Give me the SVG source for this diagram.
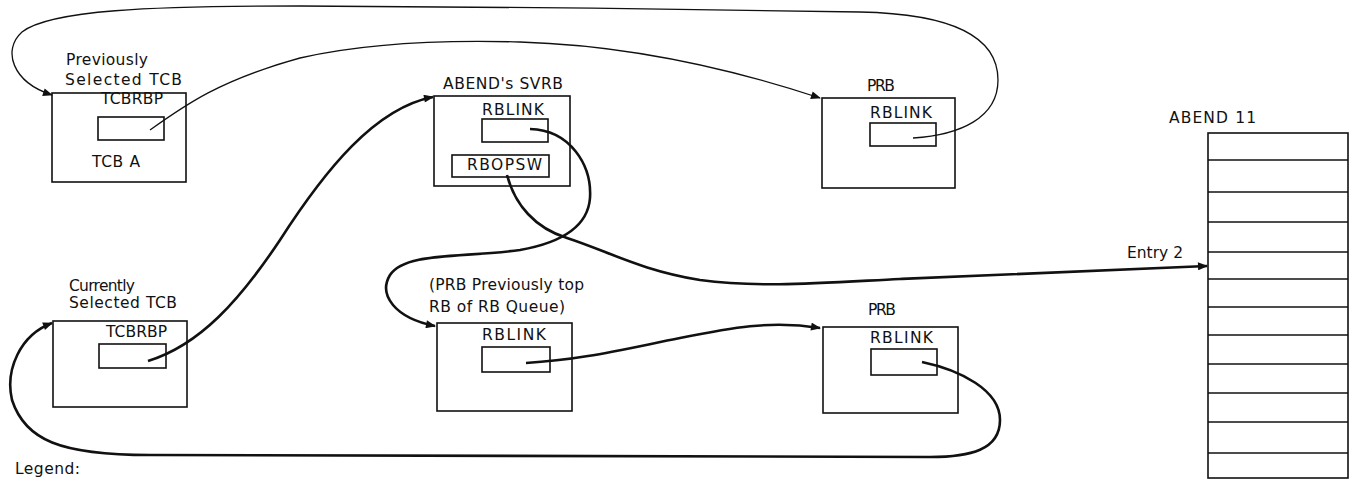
<svg xmlns="http://www.w3.org/2000/svg" width="1351" height="480" viewBox="0 0 1351 480">
<style>
  .box{fill:none;stroke:#111;stroke-width:1.6}
  .t{font-family:"DejaVu Sans","Liberation Sans",sans-serif;font-size:15.5px;fill:#111}
  .thin{fill:none;stroke:#111;stroke-width:1.3}
  .thick{fill:none;stroke:#111;stroke-width:2.6}
  .row{stroke:#111;stroke-width:1.5}
</style>
<defs>
  <marker id="ah" viewBox="0 0 10 8" refX="9" refY="4" markerWidth="11" markerHeight="8" markerUnits="userSpaceOnUse" orient="auto">
    <path d="M0,0 L10,4 L0,8 z" fill="#111"/>
  </marker>
</defs>
<rect width="1351" height="480" fill="#fff"/>

<g id="tcbA">
  <text class="t" x="66" y="65" textLength="82">Previously</text>
  <text class="t" x="65" y="85" textLength="117">Selected TCB</text>
  <rect class="box" x="52" y="93" width="134" height="89"/>
  <text class="t" x="101" y="104" textLength="62">TCBRBP</text>
  <rect class="box" x="98" y="117" width="66" height="23"/>
  <text class="t" x="92" y="167" textLength="48">TCB A</text>
</g>

<g id="svrb">
  <text class="t" x="443" y="89" textLength="120">ABEND's SVRB</text>
  <rect class="box" x="434" y="96" width="136" height="90"/>
  <text class="t" x="482" y="115" textLength="62">RBLINK</text>
  <rect class="box" x="482" y="119" width="66" height="23"/>
  <rect class="box" x="452" y="155" width="97" height="22"/>
  <text class="t" x="467" y="170" textLength="75">RBOPSW</text>
</g>

<g id="prbTop">
  <text class="t" x="867" y="91" textLength="28">PRB</text>
  <rect class="box" x="822" y="98" width="133" height="90"/>
  <text class="t" x="870" y="118" textLength="62">RBLINK</text>
  <rect class="box" x="870" y="123" width="66" height="23"/>
</g>

<g id="abend11">
  <text class="t" x="1169" y="123" textLength="87">ABEND 11</text>
  <rect class="box" x="1208" y="133" width="140" height="345"/>
  <g class="row">
    <line x1="1208" y1="160" x2="1348" y2="160"/>
    <line x1="1208" y1="192" x2="1348" y2="192"/>
    <line x1="1208" y1="222" x2="1348" y2="222"/>
    <line x1="1208" y1="252" x2="1348" y2="252"/>
    <line x1="1208" y1="279" x2="1348" y2="279"/>
    <line x1="1208" y1="307" x2="1348" y2="307"/>
    <line x1="1208" y1="335" x2="1348" y2="335"/>
    <line x1="1208" y1="364" x2="1348" y2="364"/>
    <line x1="1208" y1="393" x2="1348" y2="393"/>
    <line x1="1208" y1="422" x2="1348" y2="422"/>
    <line x1="1208" y1="453" x2="1348" y2="453"/>
  </g>
</g>

<g id="tcbCur">
  <text class="t" x="69" y="291" textLength="66">Currently</text>
  <text class="t" x="69" y="308" textLength="108">Selected TCB</text>
  <rect class="box" x="53" y="321" width="134" height="86"/>
  <text class="t" x="106" y="337" textLength="61">TCBRBP</text>
  <rect class="box" x="99" y="344" width="67" height="24"/>
</g>

<g id="prbPrev">
  <text class="t" x="429" y="290" textLength="155">(PRB Previously top</text>
  <text class="t" x="429" y="312" textLength="136">RB of RB Queue)</text>
  <rect class="box" x="437" y="323" width="135" height="88"/>
  <text class="t" x="482" y="340" textLength="64">RBLINK</text>
  <rect class="box" x="482" y="347" width="68" height="25"/>
</g>

<g id="prbBottom">
  <text class="t" x="868" y="315" textLength="28">PRB</text>
  <rect class="box" x="823" y="327" width="135" height="86"/>
  <text class="t" x="870" y="343" textLength="63">RBLINK</text>
  <rect class="box" x="871" y="349" width="66" height="26"/>
</g>

<g id="legend">
  <text class="t" x="15" y="474" textLength="65">Legend:</text>
</g>

<g id="entryLabel">
  <text class="t" x="1127" y="258" textLength="56">Entry 2</text>
</g>

<g id="connectors">
  <path class="thin" marker-end="url(#ah)" d="M913,138 C960,135 998,118 998,80 C998,40 960,14 860,12 C700,9 450,6 300,6 C150,6 50,10 22,32 C2,50 12,82 52,95"/>
  <path class="thin" marker-end="url(#ah)" d="M150,130 C185,105 220,80 300,58 C370,42 450,40 520,42 C620,45 720,65 820,98"/>
  <path class="thick" marker-end="url(#ah)" d="M148,361 C200,345 240,300 280,240 C325,170 375,108 433,97"/>
  <path class="thick" marker-end="url(#ah)" d="M530,129 C570,130 592,165 590,198 C588,225 565,242 520,250 C460,258 405,252 390,275 C378,295 395,318 435,326"/>
  <path class="thick" marker-end="url(#ah)" d="M507,175 C515,205 535,228 567,238 C610,252 640,270 700,280 C760,288 820,283 900,279 C1000,274 1100,270 1207,266"/>
  <path class="thick" marker-end="url(#ah)" d="M526,363 C580,360 620,350 680,338 C730,328 770,320 820,328"/>
  <path class="thick" marker-end="url(#ah)" d="M922,362 C960,370 1000,390 1000,420 C1000,450 970,457 930,457 L150,455 C60,455 25,440 12,400 C5,370 20,335 52,323"/>
</g>
</svg>
